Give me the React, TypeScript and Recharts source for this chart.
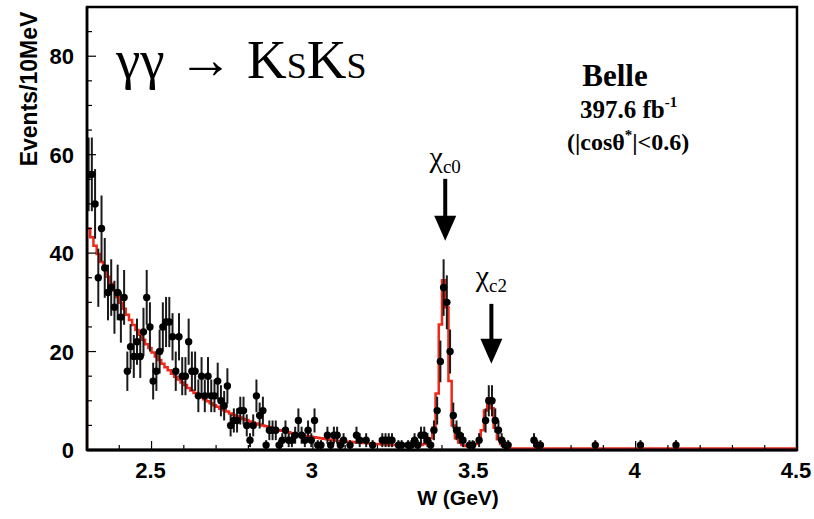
import React from "react";
import {
  ComposedChart,
  Scatter,
  Line,
  XAxis,
  YAxis,
  ErrorBar,
  ReferenceDot,
  ReferenceArea,
} from "recharts";

// events per 10 MeV bin, first bin 2.30-2.31 GeV
const counts = [
  56, 56, 50, 35, 45, 37, 32, 33, 29, 32,
  27, 31, 16, 21, 19, 22, 19, 24, 31, 25,
  14, 16, 20, 25, 26, 26, 23, 16, 23, 15,
  15, 22, 16, 16, 11, 15, 11, 15, 11, 11,
  14, 10, 9, 13, 5, 6, 6, 8, 8, 5,
  2, 5, 11, 7, 8, 1, 4, 4, 4, 1,
  2, 4, 2, 2, 3, 6, 3, 2, 4, 2,
  6, 1, 1, 0, 3, 1, 3, 3, 1, 2,
  0, 1, 0, 3, 2, 0, 2, 0, 1, 0,
  0, 2, 2, 2, 2, 0, 1, 1, 0, 1,
  1, 2, 1, 3, 3, 2, 1, 4, 8, 18,
  33, 30, 20, 7, 4, 3, 2, 0, 1, 1,
  0, 2, 0, 6, 10, 10, 6, 4, 2, 1,
  1, 0, 0, 0, 0, 0, 0, 0, 2, 1,
  1,
];
// isolated entries above 3.7 GeV
const highW = [3.875, 4.015, 4.125];
const highCounts = [1, 1, 1];

// fit histogram per 10 MeV bin from 2.30 to 3.61 GeV
const fitBins = [
  45.0, 43.2, 41.5, 39.8, 38.2, 36.7, 35.2, 33.8, 32.4, 31.1,
  29.9, 28.7, 27.5, 26.4, 25.4, 24.4, 23.4, 22.4, 21.5, 20.7,
  19.8, 19.0, 18.3, 17.5, 16.8, 16.2, 15.5, 14.9, 14.3, 13.7,
  13.2, 12.6, 12.1, 11.6, 11.2, 10.7, 10.3, 9.9, 9.5, 9.1,
  8.8, 8.4, 8.1, 7.8, 7.4, 7.1, 6.9, 6.6, 6.3, 6.1,
  5.8, 5.6, 5.4, 5.2, 5.0, 4.8, 4.6, 4.4, 4.2, 4.0,
  3.9, 3.7, 3.6, 3.4, 3.3, 3.2, 3.0, 2.9, 2.8, 2.7,
  2.6, 2.5, 2.4, 2.3, 2.2, 2.1, 2.0, 1.9, 1.9, 1.8,
  1.7, 1.7, 1.6, 1.5, 1.5, 1.4, 1.4, 1.3, 1.3, 1.2,
  1.2, 1.1, 1.1, 1.0, 1.0, 1.0, 0.9, 0.9, 0.9, 0.8,
  0.8, 0.8, 0.9, 1.0, 1.2, 1.6, 2.4, 4.5, 11.5, 25.5,
  34.5, 29.0, 14.0, 5.0, 2.4, 1.5, 1.0, 0.8, 0.8, 0.9,
  1.2, 2.0, 4.0, 8.0, 10.5, 8.5, 4.5, 2.2, 1.2, 0.7,
  0.5,
];
const tailW = [3.61, 4.5];
const tailFit = [0.3, 0.3];

const xMajor = [2.5, 3, 3.5, 4, 4.5];
const xTicks = [
  2.3, 2.4, 2.5, 2.6, 2.7, 2.8, 2.9, 3, 3.1, 3.2, 3.3, 3.4,
  3.5, 3.6, 3.7, 3.8, 3.9, 4, 4.1, 4.2, 4.3, 4.4, 4.5,
];
const yMajor = [0, 20, 40, 60, 80];
const yTicks = [0, 5, 10, 15, 20, 25, 30, 35, 40, 45, 50, 55, 60, 65, 70, 75, 80, 85, 90];

const points = [
  ...counts.map((n, i) => ({ w: +(2.305 + 0.01 * i).toFixed(3), y: n, err: Math.sqrt(n) })),
  ...highW.map((w, i) => ({ w, y: highCounts[i], err: Math.sqrt(highCounts[i]) })),
].filter((p) => p.y > 0);

const fit = [
  { w: 2.3, y: 0 },
  ...fitBins.map((f, i) => ({ w: +(2.3 + 0.01 * i).toFixed(2), y: f })),
  ...tailW.map((w, i) => ({ w, y: tailFit[i] })),
];

const SANS = "'Liberation Sans', Arial, sans-serif";
const SERIF = "'Liberation Serif', 'Times New Roman', serif";

const XTick = (props: any) => {
  const { x, y, payload } = props;
  const major = xMajor.some((m) => Math.abs(m - payload.value) < 1e-6);
  return (
    <g>
      <line x1={x} y1={y} x2={x} y2={y - (major ? 9 : 5)} stroke="#000" strokeWidth={1.2} />
      {major && (
        <text x={x - 1} y={y + 28} textAnchor="middle" fontFamily={SANS} fontWeight="bold" fontSize={22} fill="#000">
          {payload.value}
        </text>
      )}
    </g>
  );
};

const YTick = (props: any) => {
  const { x, y, payload } = props;
  const major = yMajor.includes(payload.value);
  return (
    <g>
      <line x1={x} y1={y} x2={x + (major ? 9 : 5)} y2={y} stroke="#000" strokeWidth={1.2} />
      {major && (
        <text x={x - 13} y={y + 8} textAnchor="end" fontFamily={SANS} fontWeight="bold" fontSize={22} fill="#000">
          {payload.value}
        </text>
      )}
    </g>
  );
};

const RTick = (props: any) => {
  const { x, y, payload } = props;
  const major = yMajor.includes(payload.value);
  return <line x1={x} y1={y} x2={x - (major ? 9 : 5)} y2={y} stroke="#000" strokeWidth={1.2} />;
};

const Dot = (props: any) => <circle cx={props.cx} cy={props.cy} r={3.7} fill="#000" />;

const arrow = (sub: string, len: number, gap: number) => (props: any) => {
  const { cx, cy } = props;
  return (
    <g>
      <line x1={cx} y1={cy - len} x2={cx} y2={cy - 22} stroke="#000" strokeWidth={4} />
      <polygon points={`${cx - 11},${cy - 25} ${cx + 11},${cy - 25} ${cx},${cy}`} fill="#000" />
      <text x={cx} y={cy - len - gap} textAnchor="middle" fontFamily={SERIF} fontSize={30} fill="#000">
        χ<tspan fontSize={19} dy={6} fill="#000">{sub}</tspan>
      </text>
    </g>
  );
};

export default function App() {
  return (
    <div style={{ position: "absolute", left: 0, top: 0, background: "#fff" }}>
      <ComposedChart width={814} height={519} margin={{ top: 7, right: 0, bottom: 0, left: 0 }}>
        <XAxis
          type="number"
          dataKey="w"
          domain={[2.3, 4.5]}
          ticks={xTicks}
          interval={0}
          allowDataOverflow
          height={69}
          tickSize={0}
          tickMargin={0}
          tickLine={false}
          tick={<XTick />}
          axisLine={{ stroke: "#000", strokeWidth: 3 }}
        />
        <YAxis
          type="number"
          dataKey="y"
          domain={[0, 90]}
          ticks={yTicks}
          interval={0}
          allowDataOverflow
          width={87}
          tickSize={0}
          tickMargin={0}
          tickLine={false}
          tick={<YTick />}
          axisLine={{ stroke: "#000", strokeWidth: 2.5 }}
        />
        <YAxis
          yAxisId="right"
          orientation="right"
          type="number"
          domain={[0, 90]}
          ticks={yTicks}
          interval={0}
          width={17}
          tickSize={0}
          tickMargin={0}
          tickLine={false}
          tick={<RTick />}
          axisLine={false}
        />
        <ReferenceArea x1={2.3} x2={4.5} y1={0} y2={90} fill="none" stroke="#000" strokeWidth={2.5} />
        <Line
          data={fit}
          dataKey="y"
          type="stepAfter"
          stroke="#f0281a"
          strokeWidth={2.5}
          dot={false}
          activeDot={false}
          isAnimationActive={false}
        />
        <Scatter data={points} dataKey="y" shape={<Dot />} isAnimationActive={false}>
          <ErrorBar dataKey="err" direction="y" width={0} stroke="#1a1a1a" strokeWidth={2} />
        </Scatter>
        <ReferenceDot x={3.41} y={42.5} r={0} shape={arrow("c0", 62, 12)} />
        <ReferenceDot x={3.553} y={17.5} r={0} shape={arrow("c2", 60, 18)} />
        <text x={116} y={78} fontFamily={SERIF} fontSize={55} fill="#000">
          γγ → K<tspan fontSize={36} fill="#000">S</tspan>K<tspan fontSize={36} fill="#000">S</tspan>
        </text>
        <text x={615} y={86} textAnchor="middle" fontFamily={SERIF} fontWeight="bold" fontSize={31} fill="#000">
          Belle
        </text>
        <text x={580} y={118} fontFamily={SERIF} fontWeight="bold" fontSize={25} fill="#000">
          397.6 fb<tspan fontSize={15} dy={-11} fill="#000">-1</tspan>
        </text>
        <text x={567} y={150} fontFamily={SERIF} fontWeight="bold" fontSize={24} fill="#000">
          (|cosθ<tspan fontSize={15} dy={-10} fill="#000">*</tspan>
          <tspan dy={10} fill="#000">|&lt;0.6)</tspan>
        </text>
        <text
          x={29}
          y={89}
          transform="rotate(-90 29 89)"
          textAnchor="middle"
          dominantBaseline="central"
          fontFamily={SANS}
          fontWeight="bold"
          fontSize={23}
          fill="#000"
        >
          Events/10MeV
        </text>
        <text x={458} y={505} textAnchor="middle" fontFamily={SANS} fontWeight="bold" fontSize={21} fill="#000">
          W (GeV)
        </text>
      </ComposedChart>
    </div>
  );
}
